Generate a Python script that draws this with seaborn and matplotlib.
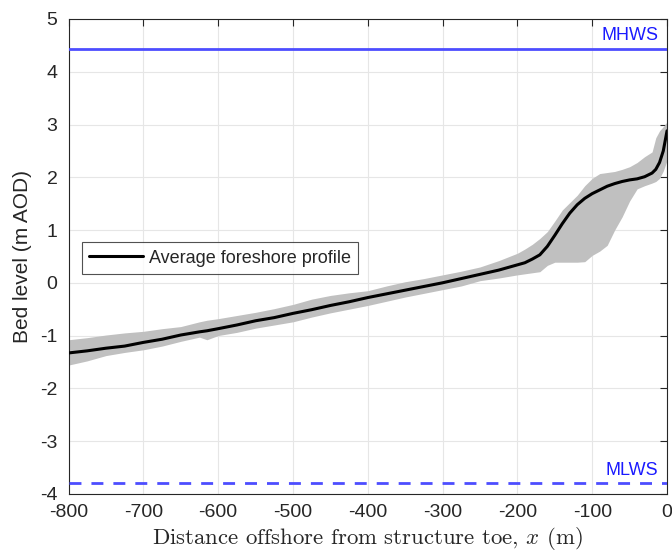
import numpy as np
import pandas as pd
import matplotlib
matplotlib.use("Agg")
import matplotlib.pyplot as plt
import seaborn as sns

# ---- data ----
x_m = [-800, -775, -750, -725, -700, -675, -650, -625, -615, -600, -575, -550, -525,
       -500, -475, -450, -425, -400, -375, -350, -325, -300, -275, -250, -225,
       -200, -190, -180, -170, -160, -150, -140, -130, -120, -110, -100, -90,
       -80, -70, -60, -50, -40, -30, -20, -15, -10, -5, 0]
mean_profile = [-1.33, -1.29, -1.24, -1.20, -1.13, -1.07, -0.99, -0.93, -0.91, -0.87, -0.80, -0.72, -0.66,
                -0.58, -0.51, -0.43, -0.36, -0.28, -0.21, -0.14, -0.07, 0.00, 0.08, 0.16, 0.24,
                0.34, 0.38, 0.45, 0.53, 0.69, 0.90, 1.12, 1.32, 1.48, 1.60, 1.69, 1.76,
                1.83, 1.88, 1.92, 1.95, 1.97, 2.01, 2.08, 2.15, 2.28, 2.50, 2.88]
upper_env = [-1.08, -1.04, -0.99, -0.95, -0.92, -0.87, -0.83, -0.74, -0.71, -0.68, -0.62, -0.56, -0.49,
             -0.41, -0.31, -0.24, -0.19, -0.15, -0.06, 0.02, 0.08, 0.15, 0.22, 0.30, 0.42,
             0.56, 0.64, 0.73, 0.84, 0.97, 1.17, 1.38, 1.52, 1.66, 1.84, 1.98, 2.07,
             2.09, 2.11, 2.15, 2.20, 2.28, 2.39, 2.48, 2.75, 2.88, 2.96, 3.05]
lower_env = [-1.56, -1.48, -1.38, -1.32, -1.27, -1.20, -1.11, -1.03, -1.08, -1.00, -0.94, -0.86, -0.80,
             -0.74, -0.65, -0.57, -0.50, -0.43, -0.35, -0.27, -0.20, -0.13, -0.06, 0.04, 0.09,
             0.15, 0.17, 0.19, 0.21, 0.33, 0.39, 0.39, 0.39, 0.39, 0.40, 0.52, 0.60,
             0.71, 1.00, 1.25, 1.55, 1.78, 1.84, 1.89, 1.92, 1.98, 2.12, 2.32]
mhws = 4.44
mlws = -3.80
x_ticks = [-800, -700, -600, -500, -400, -300, -200, -100, 0]
y_ticks = [-4, -3, -2, -1, 0, 1, 2, 3, 4, 5]

df = pd.DataFrame({"x": x_m, "mean": mean_profile, "upper": upper_env, "lower": lower_env})

sns.set_style("white")
plt.rcParams["font.family"] = ["Liberation Sans", "DejaVu Sans"]
plt.rcParams["mathtext.fontset"] = "cm"

fig = plt.figure(figsize=(6.72, 5.52), dpi=100)
ax = fig.add_axes([0.102, 0.1054, 0.8906, 0.8602])

ax.fill_between(df["x"], df["lower"], df["upper"], color="#c0c0c0", linewidth=0, zorder=2)
sns.lineplot(data=df, x="x", y="mean", ax=ax, color="black", linewidth=2.2,
             label="Average foreshore profile", zorder=3)

ax.axhline(mhws, color="#4d4dff", linewidth=2.0, zorder=3)
ax.axhline(mlws, color="#4d4dff", linewidth=2.0, linestyle=(0, (4.3, 3.6)), zorder=3)
ax.text(-12, mhws + 0.16, "MHWS", color="#1a1aff", fontsize=13, ha="right", va="baseline")
ax.text(-12, mlws + 0.16, "MLWS", color="#1a1aff", fontsize=13, ha="right", va="baseline")

ax.set_xlim(-800, 0)
ax.set_ylim(-4, 5)
ax.set_xticks(x_ticks)
ax.set_yticks(y_ticks)
ax.set_xticklabels([str(v) for v in x_ticks])
ax.set_yticklabels([str(v) for v in y_ticks])
ax.grid(True, color="#e6e6e6", linewidth=0.8, zorder=0)
ax.set_axisbelow(True)
ax.tick_params(direction="in", length=5, width=0.8, labelsize=14, colors="#262626",
               top=True, right=True, labelcolor="#262626")
ax.tick_params(axis="x", pad=7)
ax.tick_params(axis="y", pad=8)
for s in ax.spines.values():
    s.set_color("#262626")
    s.set_linewidth(0.8)

ax.set_xlabel("Distance offshore from structure toe, $x$ (m)", fontsize=16.4,
              labelpad=3, color="#262626")
ax.xaxis.label.set_fontfamily("cmr10")
ax.set_ylabel("Bed level (m AOD)", fontsize=15, labelpad=6, color="#262626")

leg = ax.legend(loc="upper left", bbox_to_anchor=(0.022, 0.53), fontsize=13,
                frameon=True, fancybox=False, edgecolor="#262626", handlelength=3.0,
                borderpad=0.42, handletextpad=0.3, borderaxespad=0)
leg.get_frame().set_linewidth(0.8)

fig.savefig("out.png", dpi=100)
